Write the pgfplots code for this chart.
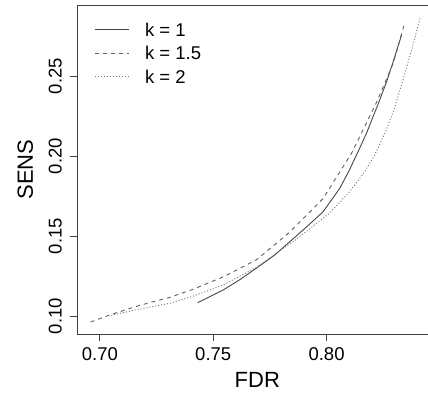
\documentclass[border=0pt]{standalone}
\usepackage{pgfplots}
\pgfplotsset{compat=1.18}
\usepackage{fontspec}
\setmainfont{Liberation Sans}
\begin{document}
\begin{tikzpicture}
\begin{axis}[
  scale only axis, width=360.6bp, height=329bp,
  xmin=0.6899, xmax=0.849, ymin=0.0888, ymax=0.2944,
  axis line style={black!75, line width=0.8bp},
  tick style={black!75, line width=0.8bp},
  tick align=outside, major tick length=7bp,
  xtick pos=lower, ytick pos=left,
  xtick={0.70,0.75,0.80}, xticklabels={0.70,0.75,0.80},
  ytick={0.10,0.15,0.20,0.25}, yticklabels={0.10,0.15,0.20,0.25},
  /pgf/number format/assume math mode=true,
  ticklabel style={font=\fontsize{18.5bp}{22bp}\selectfont, inner sep=0pt},
  xticklabel style={anchor=north},
  yticklabel style={rotate=90, anchor=south},
  xticklabel shift=6bp, yticklabel shift=8bp,
  xlabel={FDR}, ylabel={SENS},
  label style={font=\fontsize{22bp}{26bp}\selectfont, inner sep=0pt},
  xlabel style={at={(axis description cs:0.5,-0.1155)}, anchor=north},
  ylabel style={at={(axis description cs:-0.1212,0.5)}, rotate=0, anchor=south},
  legend style={at={(axis description cs:0.0471,0.9462)}, anchor=north west,
    draw=none, fill=none, inner sep=0pt, row sep=9.8bp, column sep=16bp,
    nodes={inner sep=0pt, text height=13.5bp, text depth=0pt, anchor=west},
    font=\fontsize{18.5bp}{22bp}\selectfont},
  legend cell align=left,
  legend image code/.code={\draw[#1] (0bp,0bp) -- (34bp,0bp);},
]
\addplot[black!72, line width=0.9bp] coordinates {
(0.7431,0.1083) (0.7544,0.1163) (0.7620,0.1230) (0.7691,0.1300)
(0.7770,0.1380) (0.7838,0.1465) (0.7910,0.1555) (0.7985,0.1652)
(0.8059,0.1800) (0.8100,0.1910) (0.8140,0.2030) (0.8176,0.2142)
(0.8229,0.2330) (0.8265,0.2465) (0.8294,0.2590) (0.8331,0.2756)
};
\addplot[black!62, line width=0.9bp, dash pattern=on 4bp off 4bp] coordinates {
(0.6959,0.0963) (0.7050,0.1010) (0.7147,0.1055) (0.7230,0.1088)
(0.7309,0.1117) (0.7412,0.1168) (0.7544,0.1245) (0.7691,0.1352)
(0.7838,0.1525) (0.7985,0.1735) (0.8110,0.2017) (0.8222,0.2340)
(0.8294,0.2579) (0.8341,0.2813)
};
\addplot[black!55, line width=0.9bp, dash pattern=on 1bp off 2bp] coordinates {
(0.7050,0.1005) (0.7163,0.1040) (0.7309,0.1080) (0.7412,0.1125)
(0.7544,0.1194) (0.7691,0.1305) (0.7862,0.1475) (0.8015,0.1645)
(0.8100,0.1775) (0.8160,0.1885) (0.8210,0.2000) (0.8260,0.2150)
(0.8300,0.2300) (0.8338,0.2480) (0.8375,0.2660) (0.8412,0.2860)
};
\legend{k = 1, k = 1.5, k = 2}
\end{axis}
\pgfresetboundingbox
\path ([shift={(-77bp,-60bp)}]current axis.south west) rectangle ([shift={(351bp,334bp)}]current axis.south west);
\end{tikzpicture}
\end{document}
